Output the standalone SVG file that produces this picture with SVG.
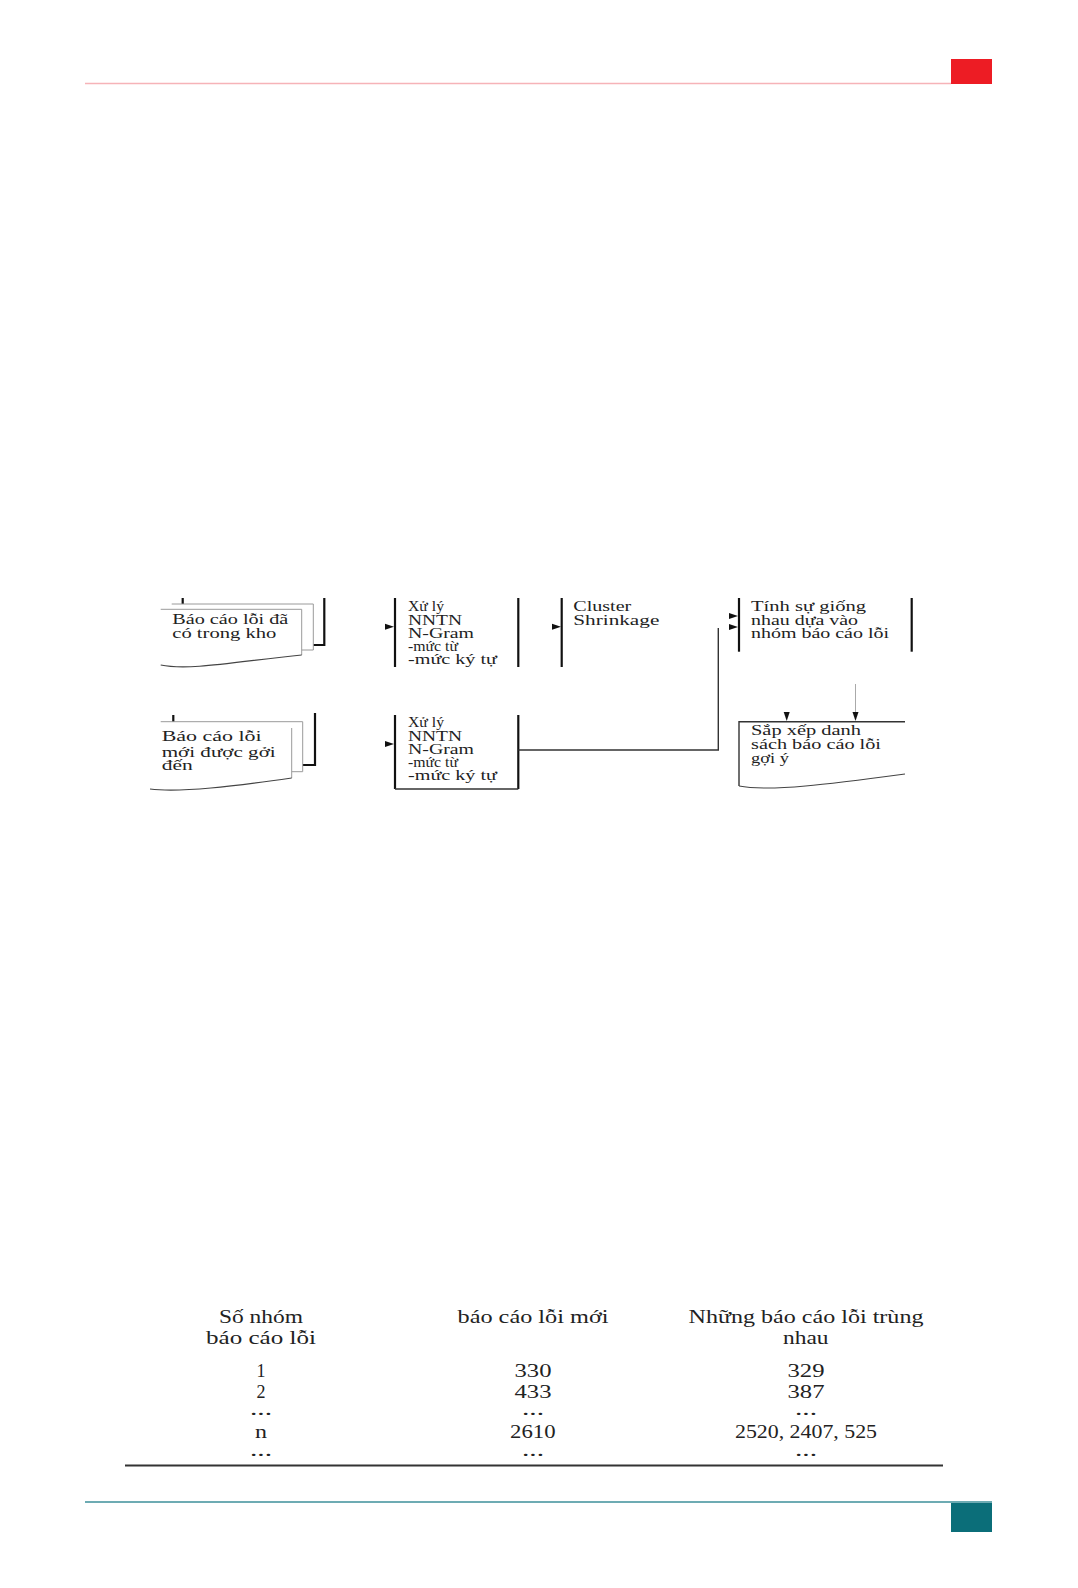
<svg xmlns="http://www.w3.org/2000/svg" width="1078" height="1588" viewBox="0 0 1078 1588">
<style>
.d{font-family:"Liberation Serif","DejaVu Serif","Times New Roman",serif;font-size:14px;fill:#222}
.t{font-family:"Liberation Serif","DejaVu Serif","Times New Roman",serif;font-size:18px;fill:#222}
.m{text-anchor:middle}
.k{stroke:#111;stroke-width:2.2;fill:none}
.g{stroke:#9a9a9a;stroke-width:1;fill:none}
.c{stroke:#333;stroke-width:1.4;fill:none}
.w{stroke:#444;stroke-width:1.2;fill:none}
</style>
<defs>
<path id="ah" d="M0,0 L-9,-3 L-9,3 Z" fill="#111"/>
</defs>
<rect width="1078" height="1588" fill="#fff"/>
<g id="header">
<line x1="85" y1="83.5" x2="951" y2="83.5" stroke="#f6b3b8" stroke-width="1.5"/>
<rect x="951" y="59" width="41" height="25" fill="#ed1c24"/>
</g>
<g id="footer">
<line x1="85" y1="1502" x2="992" y2="1502" stroke="#3d8f9a" stroke-width="1.5"/>
<rect x="951" y="1503" width="41" height="29" fill="#0b6e79"/>
</g>
<g id="doc-kho">
<line class="k" x1="182.7" y1="598" x2="182.7" y2="604" stroke-width="1.5"/>
<polyline class="k" points="324.3,598 324.3,645 313.3,645"/>
<polyline class="g" points="171.7,604 313.3,604 313.3,650 301.7,650"/>
<polyline class="g" points="160.7,609.3 301.7,609.3 301.7,655"/>
<path class="w" d="M160.7,665 C190,671 240,661 301.7,655"/>
<text class="d" x="172.3" y="624" textLength="116" lengthAdjust="spacingAndGlyphs">Báo cáo lỗi đã</text>
<text class="d" x="172.3" y="638" textLength="104" lengthAdjust="spacingAndGlyphs">có trong kho</text>
</g>
<g id="doc-moi">
<line class="k" x1="173.3" y1="715" x2="173.3" y2="722" stroke-width="1.5"/>
<polyline class="k" points="315,713 315,765 302.7,765"/>
<polyline class="g" points="160.7,721.7 302.7,721.7 302.7,771.7 291.7,771.7"/>
<line class="g" x1="291.7" y1="728" x2="291.7" y2="778"/>
<path class="w" d="M150,789 C180,793 235,786 291.7,778"/>
<text class="d" x="161.7" y="740.5" textLength="100" lengthAdjust="spacingAndGlyphs">Báo cáo lỗi</text>
<text class="d" x="161.7" y="757" textLength="114" lengthAdjust="spacingAndGlyphs">mới được gởi</text>
<text class="d" x="161.7" y="770" textLength="31" lengthAdjust="spacingAndGlyphs">đến</text>
</g>
<g id="xuly-1">
<line class="k" x1="395" y1="598" x2="395" y2="667"/>
<line class="k" x1="518.3" y1="598" x2="518.3" y2="667"/>
<text class="d" x="408" y="611" textLength="36" lengthAdjust="spacingAndGlyphs">X&#x1EED; l&#xFD;</text>
<text class="d" x="408" y="625" textLength="54" lengthAdjust="spacingAndGlyphs">NNTN</text>
<text class="d" x="408" y="638" textLength="66" lengthAdjust="spacingAndGlyphs">N-Gram</text>
<text class="d" x="408" y="651" textLength="50" lengthAdjust="spacingAndGlyphs">-m&#x1EE9;c t&#x1EEB;</text>
<text class="d" x="408" y="664" textLength="89" lengthAdjust="spacingAndGlyphs">-m&#x1EE9;c k&#xFD; t&#x1EF1;</text>
</g>
<g id="xuly-2">
<line class="k" x1="395" y1="715" x2="395" y2="789"/>
<line class="k" x1="518.3" y1="715" x2="518.3" y2="789"/>
<line class="c" x1="395" y1="789" x2="518.3" y2="789"/>
<text class="d" x="408" y="727" textLength="36" lengthAdjust="spacingAndGlyphs">X&#x1EED; l&#xFD;</text>
<text class="d" x="408" y="741" textLength="54" lengthAdjust="spacingAndGlyphs">NNTN</text>
<text class="d" x="408" y="754" textLength="66" lengthAdjust="spacingAndGlyphs">N-Gram</text>
<text class="d" x="408" y="767" textLength="50" lengthAdjust="spacingAndGlyphs">-m&#x1EE9;c t&#x1EEB;</text>
<text class="d" x="408" y="780" textLength="89" lengthAdjust="spacingAndGlyphs">-m&#x1EE9;c k&#xFD; t&#x1EF1;</text>
</g>
<g id="cluster">
<line class="k" x1="561.7" y1="598" x2="561.7" y2="667"/>
<text class="d" x="573.3" y="611" textLength="58" lengthAdjust="spacingAndGlyphs">Cluster</text>
<text class="d" x="573.3" y="625" textLength="86" lengthAdjust="spacingAndGlyphs">Shrinkage</text>
</g>
<g id="tinh">
<line class="k" x1="739" y1="598" x2="739" y2="651.7"/>
<line class="k" x1="911.7" y1="598" x2="911.7" y2="651.7"/>
<text class="d" x="751" y="611" textLength="115" lengthAdjust="spacingAndGlyphs">Tính sự giống</text>
<text class="d" x="751" y="625" textLength="107" lengthAdjust="spacingAndGlyphs">nhau dựa vào</text>
<text class="d" x="751" y="638" textLength="138" lengthAdjust="spacingAndGlyphs">nhóm báo cáo lỗi</text>
</g>
<g id="sapxep">
<polyline class="c" points="905,721.7 739,721.7 739,786"/>
<path class="w" d="M739,786 C770,792 830,784 905,774"/>
<text class="d" x="751" y="735" textLength="110" lengthAdjust="spacingAndGlyphs">Sắp xếp danh</text>
<text class="d" x="751" y="749" textLength="130" lengthAdjust="spacingAndGlyphs">sách báo cáo lỗi</text>
<text class="d" x="751" y="763" textLength="38" lengthAdjust="spacingAndGlyphs">gợi ý</text>
</g>
<g id="connectors">
<polyline class="c" points="518.3,750 718.3,750 718.3,628"/>
<line x1="855.5" y1="684" x2="855.5" y2="713" stroke="#aaa" stroke-width="1"/>
<use href="#ah" transform="translate(394,626.7)"/>
<use href="#ah" transform="translate(394,744)"/>
<use href="#ah" transform="translate(561,626.7)"/>
<use href="#ah" transform="translate(738,616)"/>
<use href="#ah" transform="translate(738,627)"/>
<use href="#ah" transform="translate(786.7,721) rotate(90)"/>
<use href="#ah" transform="translate(855.5,721) rotate(90)"/>
</g>
<g id="table">
<text class="t" x="219" y="1323" textLength="84" lengthAdjust="spacingAndGlyphs">Số nhóm</text>
<text class="t" x="206" y="1344" textLength="110" lengthAdjust="spacingAndGlyphs">báo cáo lỗi</text>
<text class="t" x="457.5" y="1323" textLength="151" lengthAdjust="spacingAndGlyphs">báo cáo lỗi mới</text>
<text class="t" x="688.5" y="1323" textLength="235" lengthAdjust="spacingAndGlyphs">Những báo cáo lỗi trùng</text>
<text class="t" x="783" y="1344" textLength="45.5" lengthAdjust="spacingAndGlyphs">nhau</text>
<text class="t m" x="261" y="1377">1</text>
<text class="t" x="514.5" y="1377" textLength="37" lengthAdjust="spacingAndGlyphs">330</text>
<text class="t" x="787.5" y="1377" textLength="37" lengthAdjust="spacingAndGlyphs">329</text>
<text class="t m" x="261" y="1398">2</text>
<text class="t" x="514.5" y="1398" textLength="37" lengthAdjust="spacingAndGlyphs">433</text>
<text class="t" x="787.5" y="1398" textLength="37" lengthAdjust="spacingAndGlyphs">387</text>
<text class="t" x="250" y="1415" textLength="22" lengthAdjust="spacingAndGlyphs">...</text>
<text class="t" x="522" y="1415" textLength="22" lengthAdjust="spacingAndGlyphs">...</text>
<text class="t" x="795" y="1415" textLength="22" lengthAdjust="spacingAndGlyphs">...</text>
<text class="t" x="255" y="1438" textLength="12" lengthAdjust="spacingAndGlyphs">n</text>
<text class="t" x="510" y="1438" textLength="45.5" lengthAdjust="spacingAndGlyphs">2610</text>
<text class="t" x="735" y="1438" textLength="142" lengthAdjust="spacingAndGlyphs">2520, 2407, 525</text>
<text class="t" x="250" y="1456" textLength="22" lengthAdjust="spacingAndGlyphs">...</text>
<text class="t" x="522" y="1456" textLength="22" lengthAdjust="spacingAndGlyphs">...</text>
<text class="t" x="795" y="1456" textLength="22" lengthAdjust="spacingAndGlyphs">...</text>
<line x1="125" y1="1465.5" x2="943" y2="1465.5" stroke="#333" stroke-width="2"/>
</g>
</svg>
